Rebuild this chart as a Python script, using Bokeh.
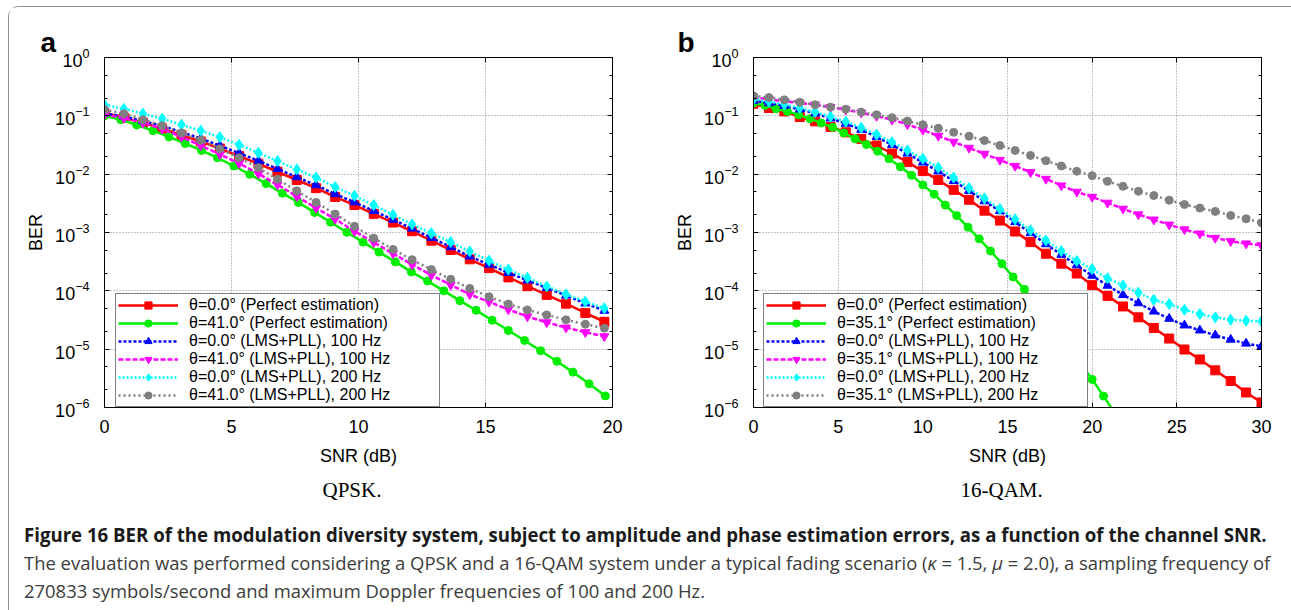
from bokeh.plotting import figure
from bokeh.models import (FixedTicker, LogAxis, LinearAxis, Title, Div, Range1d,
                          CustomJSTickFormatter)
from bokeh.layouts import column, row
from bokeh.embed import file_html
from bokeh.resources import INLINE

# ---------------- data : panel a (QPSK) ----------------
snr_a = [0, 0.76, 1.51, 2.27, 3.03, 3.79, 4.54, 5.30, 6.06, 6.81, 7.57, 8.33, 9.08, 9.84,
         10.60, 11.36, 12.11, 12.87, 13.63, 14.38, 15.14, 15.90, 16.65, 17.41, 18.17, 18.93, 19.68]
snr_a_green = [0, 0.64, 1.27, 1.91, 2.54, 3.18, 3.82, 4.45, 5.09, 5.72, 6.36, 7.00, 7.63, 8.27,
               8.90, 9.54, 10.18, 10.81, 11.45, 12.08, 12.72, 13.36, 13.99, 14.63, 15.26, 15.90,
               16.54, 17.17, 17.81, 18.44, 19.08, 19.72]
ber_a_red = [1.12e-1, 9.33e-2, 7.59e-2, 6.03e-2, 4.68e-2, 3.63e-2, 2.75e-2, 2.04e-2, 1.51e-2,
             1.10e-2, 7.94e-3, 5.75e-3, 4.07e-3, 2.95e-3, 2.09e-3, 1.48e-3, 1.05e-3, 7.24e-4,
             5.01e-4, 3.47e-4, 2.45e-4, 1.70e-4, 1.20e-4, 8.51e-5, 6.03e-5, 4.17e-5, 2.95e-5]
ber_a_green = [1.00e-1, 8.59e-2, 6.97e-2, 5.57e-2, 4.36e-2, 3.35e-2, 2.55e-2, 1.91e-2, 1.38e-2,
               9.95e-3, 6.90e-3, 4.72e-3, 3.28e-3, 2.21e-3, 1.50e-3, 1.01e-3, 6.84e-4, 4.62e-4,
               3.13e-4, 2.11e-4, 1.47e-4, 1.00e-4, 6.78e-5, 4.63e-5, 3.13e-5, 2.09e-5, 1.41e-5,
               9.42e-6, 6.21e-6, 4.04e-6, 2.55e-6, 1.58e-6]
ber_a_blue = [1.10e-1, 9.77e-2, 8.13e-2, 6.76e-2, 5.25e-2, 4.07e-2, 3.09e-2, 2.29e-2, 1.70e-2,
              1.23e-2, 8.91e-3, 6.46e-3, 4.57e-3, 3.31e-3, 2.34e-3, 1.66e-3, 1.17e-3, 8.13e-4,
              5.62e-4, 3.89e-4, 2.82e-4, 2.04e-4, 1.51e-4, 1.12e-4, 8.32e-5, 6.10e-5, 4.57e-5]
ber_a_magenta = [1.05e-1, 9.12e-2, 7.59e-2, 5.96e-2, 4.37e-2, 3.09e-2, 2.19e-2, 1.53e-2, 1.02e-2,
                 6.61e-3, 4.17e-3, 2.63e-3, 1.70e-3, 1.05e-3, 6.76e-4, 4.37e-4, 2.82e-4, 1.86e-4,
                 1.26e-4, 8.71e-5, 6.46e-5, 4.79e-5, 3.63e-5, 2.88e-5, 2.34e-5, 1.95e-5, 1.66e-5]
ber_a_cyan = [1.55e-1, 1.32e-1, 1.09e-1, 8.93e-2, 7.06e-2, 5.57e-2, 4.30e-2, 3.18e-2, 2.32e-2,
              1.68e-2, 1.21e-2, 8.73e-3, 6.05e-3, 4.26e-3, 2.95e-3, 2.02e-3, 1.38e-3, 9.72e-4,
              6.84e-4, 4.74e-4, 3.29e-4, 2.31e-4, 1.67e-4, 1.19e-4, 8.69e-5, 6.52e-5, 5.02e-5]
ber_a_gray = [1.27e-1, 1.09e-1, 8.59e-2, 6.79e-2, 5.09e-2, 3.82e-2, 2.72e-2, 1.91e-2, 1.29e-2,
              8.18e-3, 5.18e-3, 3.28e-3, 2.07e-3, 1.28e-3, 8.00e-4, 5.13e-4, 3.42e-4, 2.31e-4,
              1.58e-4, 1.10e-4, 7.93e-5, 5.94e-5, 4.70e-5, 3.86e-5, 3.18e-5, 2.68e-5, 2.29e-5]

# ---------------- data : panel b (16-QAM) ----------------
snr_b = [0, 0.91, 1.82, 2.73, 3.64, 4.55, 5.45, 6.36, 7.27, 8.18, 9.09, 10.0, 10.91, 11.82,
         12.73, 13.64, 14.55, 15.45, 16.36, 17.27, 18.18, 19.09, 20.0, 20.91, 21.82, 22.73,
         23.64, 24.55, 25.45, 26.36, 27.27, 28.18, 29.09, 30.0]
snr_b_green = [0, 0.67, 1.33, 2.0, 2.67, 3.33, 4.0, 4.67, 5.33, 6.0, 6.67, 7.33, 8.0, 8.67,
               9.33, 10.0, 10.67, 11.33, 12.0, 12.67, 13.33, 14.0, 14.67, 15.33, 16.0, 16.67,
               17.33, 18.0, 18.67, 19.33, 20.0, 20.67, 21.33]
ber_b_red = [1.61e-1, 1.36e-1, 1.19e-1, 9.53e-2, 8.04e-2, 6.44e-2, 5.22e-2, 4.03e-2, 3.10e-2,
             2.26e-2, 1.61e-2, 1.13e-2, 7.96e-3, 5.38e-3, 3.64e-3, 2.37e-3, 1.60e-3, 1.04e-3,
             6.84e-4, 4.33e-4, 2.92e-4, 1.98e-4, 1.25e-4, 8.20e-5, 5.40e-5, 3.51e-5, 2.31e-5,
             1.52e-5, 9.86e-6, 6.67e-6, 4.34e-6, 2.85e-6, 1.81e-6, 1.22e-6]
ber_b_green = [1.65e-1, 1.51e-1, 1.32e-1, 1.19e-1, 1.04e-1, 8.93e-2, 7.53e-2, 6.35e-2, 5.09e-2,
               4.03e-2, 3.22e-2, 2.48e-2, 1.84e-2, 1.34e-2, 9.57e-3, 6.55e-3, 4.54e-3, 2.95e-3,
               1.95e-3, 1.23e-3, 7.80e-4, 4.81e-4, 2.92e-4, 1.73e-4, 1.06e-4, 6.11e-5, 3.39e-5,
               1.88e-5, 1.02e-5, 5.60e-6, 3.03e-6, 1.57e-6, 8.13e-7]
ber_b_blue = [1.81e-1, 1.65e-1, 1.49e-1, 1.29e-1, 1.10e-1, 9.04e-2, 7.35e-2, 5.79e-2, 4.36e-2,
              3.18e-2, 2.26e-2, 1.59e-2, 1.12e-2, 7.66e-3, 5.18e-3, 3.45e-3, 2.33e-3, 1.51e-3,
              9.77e-4, 6.31e-4, 4.17e-4, 2.75e-4, 1.82e-4, 1.23e-4, 8.53e-5, 6.15e-5, 4.44e-5,
              3.33e-5, 2.56e-5, 2.10e-5, 1.73e-5, 1.46e-5, 1.25e-5, 1.12e-5]
ber_b_magenta = [2.08e-1, 1.91e-1, 1.78e-1, 1.67e-1, 1.55e-1, 1.41e-1, 1.27e-1, 1.13e-1, 9.91e-2,
                 8.59e-2, 7.14e-2, 5.73e-2, 4.53e-2, 3.58e-2, 2.82e-2, 2.23e-2, 1.75e-2, 1.38e-2,
                 1.08e-2, 8.28e-3, 6.38e-3, 4.98e-3, 4.07e-3, 3.23e-3, 2.55e-3, 2.04e-3, 1.66e-3,
                 1.36e-3, 1.13e-3, 9.57e-4, 8.07e-4, 7.08e-4, 6.46e-4, 6.05e-4]
ber_b_cyan = [1.93e-1, 1.76e-1, 1.57e-1, 1.36e-1, 1.16e-1, 9.66e-2, 7.94e-2, 6.27e-2, 4.76e-2,
              3.53e-2, 2.55e-2, 1.84e-2, 1.29e-2, 8.73e-3, 5.75e-3, 3.84e-3, 2.52e-3, 1.68e-3,
              1.09e-3, 7.29e-4, 4.81e-4, 3.25e-4, 2.36e-4, 1.64e-4, 1.23e-4, 9.33e-5, 7.01e-5,
              5.92e-5, 4.73e-5, 4.00e-5, 3.51e-5, 3.20e-5, 3.08e-5, 3.00e-5]
ber_b_gray = [2.20e-1, 2.06e-1, 1.88e-1, 1.71e-1, 1.55e-1, 1.41e-1, 1.30e-1, 1.16e-1, 1.04e-1,
              9.29e-2, 8.15e-2, 7.06e-2, 6.11e-2, 5.22e-2, 4.47e-2, 3.77e-2, 3.10e-2, 2.55e-2,
              2.09e-2, 1.70e-2, 1.38e-2, 1.12e-2, 9.42e-3, 7.53e-3, 6.19e-3, 5.09e-3, 4.30e-3,
              3.58e-3, 3.02e-3, 2.62e-3, 2.30e-3, 1.96e-3, 1.72e-3, 1.47e-3]

# ---------------- ticks & labels ----------------
y_major_ticks = [1e-6, 1e-5, 1e-4, 1e-3, 1e-2, 1e-1, 1.0]
y_minor_ticks = [2e-6, 5e-6, 2e-5, 5e-5, 2e-4, 5e-4, 2e-3, 5e-3, 2e-2, 5e-2, 2e-1, 5e-1]
x_ticks_a = [0, 5, 10, 15, 20]
x_ticks_b = [0, 5, 10, 15, 20, 25, 30]

labels_a = ["θ=0.0° (Perfect estimation)", "θ=41.0° (Perfect estimation)",
            "θ=0.0° (LMS+PLL), 100 Hz", "θ=41.0° (LMS+PLL), 100 Hz",
            "θ=0.0° (LMS+PLL), 200 Hz", "θ=41.0° (LMS+PLL), 200 Hz"]
labels_b = ["θ=0.0° (Perfect estimation)", "θ=35.1° (Perfect estimation)",
            "θ=0.0° (LMS+PLL), 100 Hz", "θ=35.1° (LMS+PLL), 100 Hz",
            "θ=0.0° (LMS+PLL), 200 Hz", "θ=35.1° (LMS+PLL), 200 Hz"]

cap_line1 = ("Figure 16 BER of the modulation diversity system, subject to amplitude and phase "
             "estimation errors, as a function of the channel SNR.")
cap_line2 = ("The evaluation was performed considering a QPSK and a 16-QAM system under a typical "
             "fading scenario (<i>κ</i> = 1.5, <i>μ</i> = 2.0), a sampling frequency of")
cap_line3 = "270833 symbols/second and maximum Doppler frequencies of 100 and 200 Hz."

series_styles = [
    dict(color="#ff0000", dash="solid", marker="square", size=9, lw=2.5),
    dict(color="#00ee00", dash="solid", marker="circle", size=8, lw=2.5),
    dict(color="#0000ff", dash="3 2", marker="triangle", size=9, lw=2.5),
    dict(color="#ff00ff", dash="5 2", marker="inverted_triangle", size=9, lw=2.5),
    dict(color="#00ffff", dash="2 2", marker="diamond", size=11, lw=2.5),
    dict(color="#808080", dash="2 3", marker="circle", size=8, lw=2.5),
]

FONT = "Liberation Sans"


def style_axis(ax):
    ax.axis_line_color = "black"
    ax.major_tick_line_color = "black"
    ax.minor_tick_line_color = "black"
    ax.major_tick_in = 5
    ax.major_tick_out = 0
    ax.minor_tick_in = 3
    ax.minor_tick_out = 0
    ax.major_label_text_font = FONT
    ax.major_label_text_font_size = "18px"
    ax.major_label_text_color = "black"
    ax.axis_label_text_font = FONT
    ax.axis_label_text_font_size = "18px"
    ax.axis_label_text_font_style = "normal"
    ax.axis_label_text_color = "black"


def make_panel(width, bleft, bright, x_end, xticks, data, labels, letter, letter_off,
               subtitle, subtitle_off, legend_x):
    p = figure(width=width, height=505, x_range=Range1d(0, x_end), y_range=Range1d(1e-6, 1),
               y_axis_type="log", output_backend="svg", toolbar_location=None,
               min_border_left=bleft, min_border_right=bright, min_border_top=50,
               min_border_bottom=102)
    p.background_fill_color = "white"
    p.border_fill_color = "white"
    p.outline_line_color = "black"
    p.outline_line_width = 1

    p.xaxis.ticker = FixedTicker(ticks=xticks)
    p.yaxis.ticker = FixedTicker(ticks=y_major_ticks, minor_ticks=y_minor_ticks)
    p.xaxis.axis_label = "SNR (dB)"
    p.yaxis.axis_label = "BER"
    style_axis(p.xaxis[0])
    style_axis(p.yaxis[0])
    p.xaxis.minor_tick_line_color = None
    p.xaxis.major_label_standoff = 12
    p.xaxis.axis_label_standoff = 10
    p.yaxis.major_label_standoff = 15
    p.yaxis.axis_label_standoff = 6

    blank = CustomJSTickFormatter(code="return '';")
    ra = LogAxis(ticker=FixedTicker(ticks=y_major_ticks, minor_ticks=y_minor_ticks),
                 formatter=blank)
    style_axis(ra)
    ra.major_label_standoff = 0
    p.add_layout(ra, "right")
    ta = LinearAxis(ticker=FixedTicker(ticks=xticks), formatter=blank)
    style_axis(ta)
    ta.major_label_standoff = 0
    ta.minor_tick_line_color = None
    p.add_layout(ta, "above")

    p.xgrid.grid_line_color = "#8a8a8a"
    p.xgrid.grid_line_dash = "1 2"
    p.ygrid.grid_line_color = "#8a8a8a"
    p.ygrid.grid_line_dash = "1 2"

    for (xs, ys), lab, st in zip(data, labels, series_styles):
        p.line(xs, ys, line_color=st["color"], line_width=st["lw"], line_dash=st["dash"],
               legend_label=lab)
        p.scatter(xs, ys, marker=st["marker"], size=st["size"], fill_color=st["color"],
                  line_color=st["color"], legend_label=lab)

    lg = p.legend[0]
    lg.location = (legend_x, 0)
    lg.border_line_color = "black"
    lg.border_line_width = 1
    lg.background_fill_color = "white"
    lg.background_fill_alpha = 1
    lg.label_text_font = FONT
    lg.label_text_font_size = "16px"
    lg.label_text_color = "black"
    lg.glyph_width = 60
    lg.glyph_height = 18
    lg.label_height = 18
    lg.label_standoff = 11
    lg.label_width = 248
    lg.padding = 2
    lg.spacing = 0
    lg.margin = 0

    p.add_layout(Title(text=letter, align="left", offset=letter_off, standoff=0,
                       vertical_align="bottom", text_font=FONT, text_font_size="28px",
                       text_font_style="bold", text_color="black"), "above")
    p.add_layout(Title(text=subtitle, align="left", offset=subtitle_off, standoff=18,
                       vertical_align="top", text_font="Liberation Serif",
                       text_font_size="21px", text_font_style="normal",
                       text_color="black"), "below")
    return p


data_a = [(snr_a, ber_a_red), (snr_a_green, ber_a_green), (snr_a, ber_a_blue),
          (snr_a, ber_a_magenta), (snr_a, ber_a_cyan), (snr_a, ber_a_gray)]
data_b = [(snr_b, ber_b_red), (snr_b_green, ber_b_green), (snr_b, ber_b_blue),
          (snr_b, ber_b_magenta), (snr_b, ber_b_cyan), (snr_b, ber_b_gray)]

pa = make_panel(662, 95, 59, 20, x_ticks_a, data_a, labels_a, "a", -64, "QPSK.", 218, 11)
pb = make_panel(613, 82, 23, 30, x_ticks_b, data_b, labels_b, "b", -76, "16-QAM.", 207, 10)

caption_html = (
    '<div style="padding:4px 0 0 10px;font-family:\'Open Sans\',sans-serif;font-size:19px;'
    'line-height:28px;white-space:nowrap;">'
    '<div style="font-weight:bold;color:#1a1a1a;transform:scaleX(0.98);transform-origin:0 50%;">'
    f'{cap_line1}</div>'
    '<div style="color:#3c3c3c;transform:scaleX(0.97);transform-origin:0 50%;">'
    f'{cap_line2}</div>'
    '<div style="color:#3c3c3c;transform:scaleX(0.97);transform-origin:0 50%;">'
    f'{cap_line3}</div>'
    '</div>'
)
caption = Div(text=caption_html, width=1275, height=89)

layout = column(row(pa, pb), caption, margin=(6, 0, 0, 8),
                styles={"border-top": "1px solid #8f8f8f", "border-left": "1px solid #8f8f8f",
                        "border-top-left-radius": "10px"})

open("out.html", "w").write(file_html(layout, INLINE))
